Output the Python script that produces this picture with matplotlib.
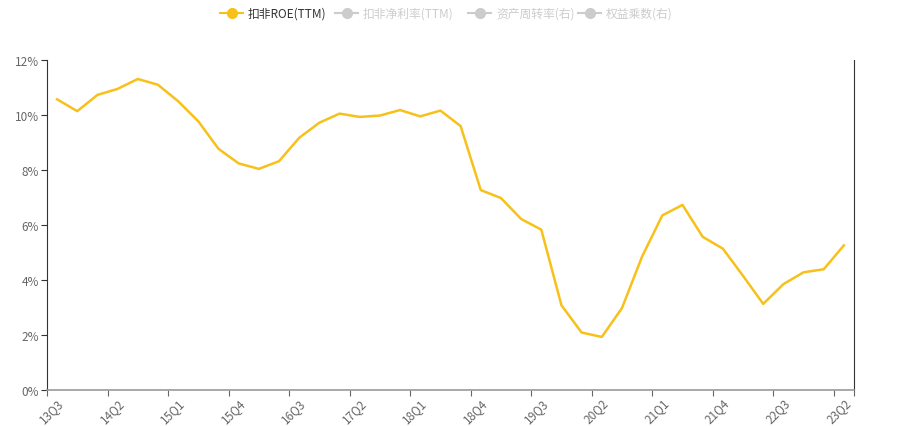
import matplotlib.pyplot as plt
from matplotlib.lines import Line2D
from matplotlib.ticker import FuncFormatter

plt.rcParams['font.family'] = ['Noto Sans CJK SC', 'DejaVu Sans']

# === Data ===
quarters = [f"{y:02d}Q{q}" for y in range(13, 24) for q in range(1, 5)]
quarters = quarters[quarters.index("13Q3"):quarters.index("23Q2") + 1]

roe = [10.57, 10.14, 10.73, 10.95, 11.31, 11.10, 10.50, 9.77, 8.77, 8.24,
       8.04, 8.32, 9.17, 9.72, 10.05, 9.93, 9.98, 10.18, 9.95, 10.16,
       9.60, 7.27, 6.98, 6.22, 5.83, 3.08, 2.09, 1.93, 2.98, 4.86,
       6.35, 6.73, 5.57, 5.14, 4.15, 3.13, 3.85, 4.28, 4.39, 5.26]

legend_labels = ["扣非ROE(TTM)", "扣非净利率(TTM)", "资产周转率(右)", "权益乘数(右)"]
legend_active = [True, False, False, False]

line_color = "#f7c11a"
inactive = "#cccccc"

# === Figure ===
fig = plt.figure(figsize=(9, 4.27), dpi=100)
ax = fig.add_axes([47 / 900, 36 / 427, 807 / 900, 330 / 427])

x = list(range(len(quarters)))
ax.plot(x, roe, color=line_color, linewidth=1.8, solid_joinstyle="round")

ax.set_xlim(-0.5, len(quarters) - 0.5)
ax.set_ylim(0, 12)

# y axis
ax.set_yticks(range(0, 13, 2))
ax.yaxis.set_major_formatter(FuncFormatter(lambda v, _: f"{v:.0f}%"))
ax.tick_params(axis="y", direction="out", length=4, color="#333333",
               labelcolor="#666666", labelsize=8.5, pad=2)

# x axis: ticks at band boundaries, labels at band centres
label_idx = list(range(0, len(quarters), 3))
ax.set_xticks([i - 0.5 for i in label_idx] + [len(quarters) - 0.5])
ax.set_xticklabels([])
ax.tick_params(axis="x", which="major", direction="out", length=4, color="#666666")
ax.set_xticks(label_idx, minor=True)
ax.set_xticklabels([quarters[i] for i in label_idx], minor=True, rotation=45,
                   ha="right", va="top", rotation_mode="anchor")
ax.tick_params(axis="x", which="minor", length=0, labelcolor="#666666",
               labelsize=8.5, pad=4)

# spines
ax.spines["top"].set_visible(False)
ax.spines["left"].set_color("#333333")
ax.spines["right"].set_color("#333333")
ax.spines["bottom"].set_color("#999999")
ax.spines["bottom"].set_linewidth(1.2)

# === Legend (top centre) ===
legend_x = [220, 335, 468, 578]
legend_y = 1 - 14 / 427
for lx, lab, act in zip(legend_x, legend_labels, legend_active):
    c = line_color if act else inactive
    x0, x1 = lx / 900, (lx + 23) / 900
    fig.add_artist(Line2D([x0, x1], [legend_y, legend_y], transform=fig.transFigure,
                          color=c, linewidth=1.5))
    fig.add_artist(Line2D([(x0 + x1) / 2], [legend_y], transform=fig.transFigure,
                          marker="o", markersize=7, color=c, linestyle="none"))
    fig.text((lx + 28) / 900, legend_y, lab, fontsize=8.5, va="center", ha="left",
             color="#333333" if act else inactive)

fig.savefig("out.png", dpi=100)
